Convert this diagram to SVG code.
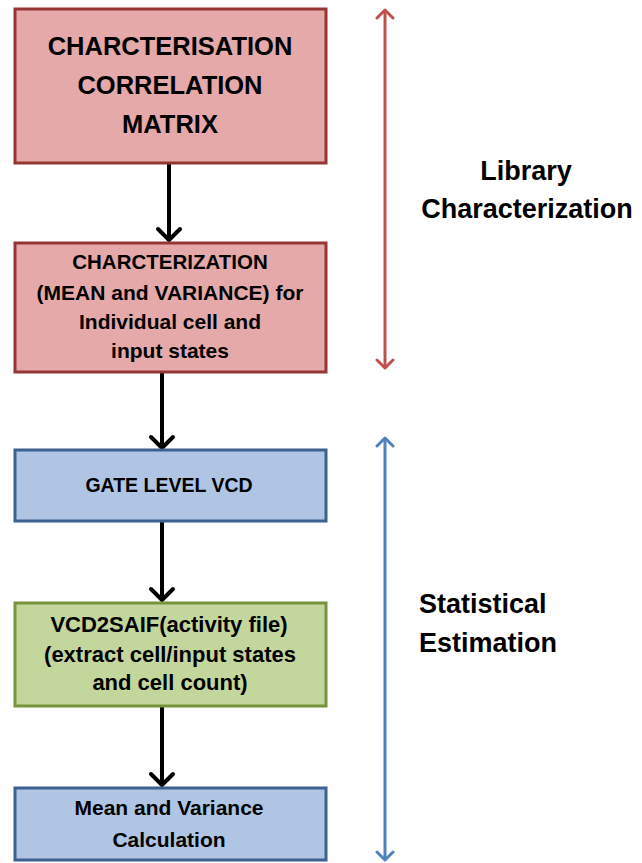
<svg xmlns="http://www.w3.org/2000/svg" width="642" height="863" viewBox="0 0 642 863">
  <defs>
    <style>
      .lbl { font-family: "Liberation Sans", Arial, sans-serif; font-weight: bold; fill: #000; text-anchor: middle; }
      .side { font-family: "Liberation Sans", Arial, sans-serif; font-weight: bold; fill: #000; font-size: 27px; }
      .red { fill: #e4a9a8; stroke: #943634; stroke-width: 3; }
      .blue { fill: #afc5e3; stroke: #3d6190; stroke-width: 3; }
      .green { fill: #c3d69b; stroke: #77933c; stroke-width: 3; }
      .flow { stroke: #000; stroke-width: 4; fill: none; }
    </style>
    <marker id="blackHead" markerUnits="userSpaceOnUse" viewBox="-16 -14 20 28" refX="-2" refY="0" markerWidth="20" markerHeight="28" orient="auto">
      <path d="M -11 -11 L 0 0 L -11 11" fill="none" stroke="#000" stroke-width="4" stroke-linecap="round" stroke-linejoin="round"/>
    </marker>
    <marker id="redHead" markerUnits="userSpaceOnUse" viewBox="-12 -10 16 20" refX="-1.5" refY="0" markerWidth="16" markerHeight="20" orient="auto-start-reverse">
      <path d="M -8 -8 L 0 0 L -8 8" fill="none" stroke="#c0504d" stroke-width="3" stroke-linecap="round" stroke-linejoin="round"/>
    </marker>
    <marker id="blueHead" markerUnits="userSpaceOnUse" viewBox="-12 -10 16 20" refX="-1.5" refY="0" markerWidth="16" markerHeight="20" orient="auto-start-reverse">
      <path d="M -8 -8 L 0 0 L -8 8" fill="none" stroke="#4f81bd" stroke-width="3" stroke-linecap="round" stroke-linejoin="round"/>
    </marker>
  </defs>
  <rect width="642" height="863" fill="#fff"/>

  <g id="connectors">
    <line class="flow" x1="169" y1="163" x2="169" y2="238" marker-end="url(#blackHead)"/>
    <line class="flow" x1="162" y1="372" x2="162" y2="446" marker-end="url(#blackHead)"/>
    <line class="flow" x1="162" y1="521" x2="162" y2="598" marker-end="url(#blackHead)"/>
    <line class="flow" x1="162" y1="706" x2="162" y2="783" marker-end="url(#blackHead)"/>
    <line x1="385" y1="11.5" x2="385" y2="366.5" stroke="#c0504d" stroke-width="3" marker-start="url(#redHead)" marker-end="url(#redHead)"/>
    <line x1="385" y1="439.5" x2="385" y2="858.5" stroke="#4f81bd" stroke-width="3" marker-start="url(#blueHead)" marker-end="url(#blueHead)"/>
  </g>

  <g id="node-correlation-matrix">
    <rect class="red" x="15" y="9" width="311" height="154"/>
    <text class="lbl" font-size="25.5" x="170" y="55">CHARCTERISATION</text>
    <text class="lbl" font-size="25.5" x="170" y="94">CORRELATION</text>
    <text class="lbl" font-size="25.5" x="170" y="133">MATRIX</text>
  </g>

  <g id="node-characterization">
    <rect class="red" x="15" y="243" width="311" height="129"/>
    <text class="lbl" font-size="20.5" x="170" y="269">CHARCTERIZATION</text>
    <text class="lbl" font-size="21" x="170" y="300">(MEAN and VARIANCE) for</text>
    <text class="lbl" font-size="21" x="170" y="329">Individual cell and</text>
    <text class="lbl" font-size="21" x="170" y="358">input states</text>
  </g>

  <g id="node-gate-level-vcd">
    <rect class="blue" x="15" y="450" width="311" height="71"/>
    <text class="lbl" font-size="19.5" x="169" y="492">GATE LEVEL VCD</text>
  </g>

  <g id="node-vcd2saif">
    <rect class="green" x="15" y="603" width="311" height="103"/>
    <text class="lbl" font-size="22" x="169" y="632">VCD2SAIF(activity file)</text>
    <text class="lbl" font-size="22" x="170" y="662">(extract cell/input states</text>
    <text class="lbl" font-size="22" x="170" y="690">and cell count)</text>
  </g>

  <g id="node-mean-variance">
    <rect class="blue" x="15" y="788" width="311" height="72"/>
    <text class="lbl" font-size="21" x="169" y="815">Mean and Variance</text>
    <text class="lbl" font-size="21" x="169" y="847">Calculation</text>
  </g>

  <g id="label-library">
    <text class="side" x="526" y="180" text-anchor="middle">Library</text>
    <text class="side" x="527" y="218" text-anchor="middle">Characterization</text>
  </g>

  <g id="label-statistical">
    <text class="side" x="419" y="613">Statistical</text>
    <text class="side" x="419" y="652">Estimation</text>
  </g>
</svg>
